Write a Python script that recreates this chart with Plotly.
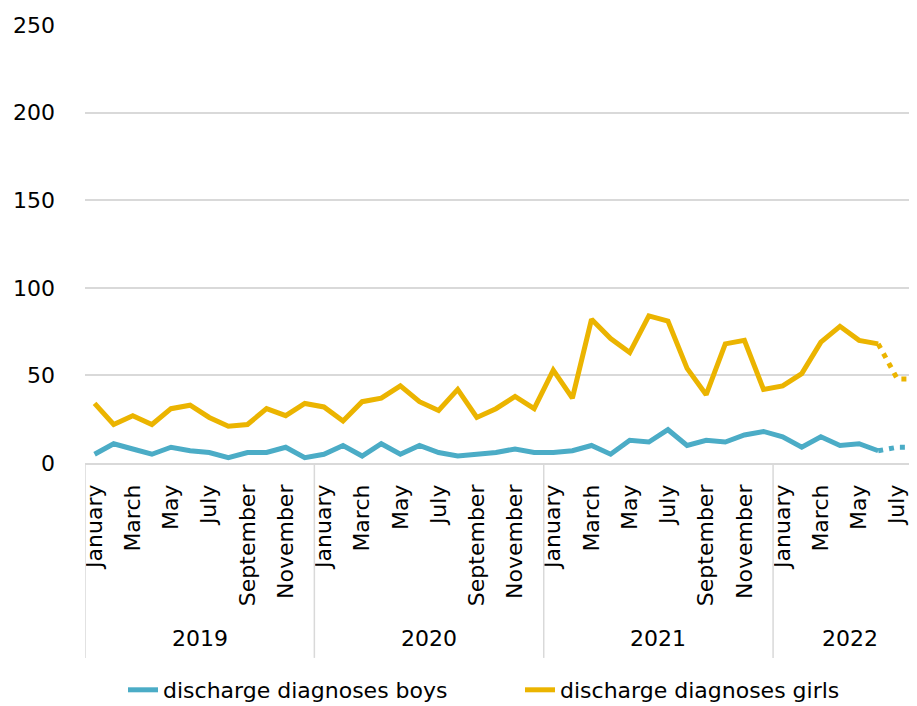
import plotly.graph_objects as go

years = [2019]*12 + [2020]*12 + [2021]*12 + [2022]*8
month_names = ["January", "February", "March", "April", "May", "June", "July",
               "August", "September", "October", "November", "December"]
months = (month_names * 4)[:44]

boys = [5, 11, 8, 5, 9, 7, 6, 3, 6, 6, 9, 3,
        5, 10, 4, 11, 5, 10, 6, 4, 5, 6, 8, 6,
        6, 7, 10, 5, 13, 12, 19, 10, 13, 12, 16, 18,
        15, 9, 15, 10, 11, 7, 9, 9]
girls = [34, 22, 27, 22, 31, 33, 26, 21, 22, 31, 27, 34,
         32, 24, 35, 37, 44, 35, 30, 42, 26, 31, 38, 31,
         53, 37, 82, 71, 63, 84, 81, 54, 39, 68, 70, 42,
         44, 51, 69, 78, 70, 68, 48, 48]
provisional_from = 41  # June 2022: following months dotted (provisional)

series_names = ["discharge diagnoses boys", "discharge diagnoses girls"]
colors = ["#4BACC6", "#EBB400"]

x = list(range(len(months)))
FONT = "DejaVu Sans"

# page body has an 8px default margin; figure is sized so it ends at the window edge
OFF = 8
W, H = 917 - OFF, 706 - OFF

fig = go.Figure()
for name, vals, col in zip(series_names, [boys, girls], colors):
    fig.add_trace(go.Scatter(
        x=x[:provisional_from + 1], y=vals[:provisional_from + 1],
        mode="lines", name=name,
        line=dict(color=col, width=5)))
    fig.add_trace(go.Scatter(
        x=x[provisional_from:], y=vals[provisional_from:],
        mode="lines", name=name, showlegend=False,
        line=dict(color=col, width=5, dash="5px,6px")))

tickvals = [i for i, m in enumerate(months) if month_names.index(m) % 2 == 0]
ticktext = [months[i] for i in tickvals]

shapes = []
annotations = []
for yr in sorted(set(years)):
    idx = [i for i, v in enumerate(years) if v == yr]
    start = idx[0] - 0.5
    shapes.append(dict(type="line", xref="x", yref="paper",
                       x0=start, x1=start, y0=0, y1=-0.445,
                       line=dict(color="#D9D9D9", width=1.5)))
    annotations.append(dict(xref="x", yref="paper", x=(idx[0] + idx[-1]) / 2,
                            y=-0.40, text=str(yr), showarrow=False,
                            yanchor="middle",
                            font=dict(family=FONT, size=22, color="#000000")))

fig.update_layout(
    width=W, height=H,
    margin=dict(l=85 - OFF, r=0, t=25 - OFF, b=243, pad=0),
    paper_bgcolor="white", plot_bgcolor="white",
    font=dict(family=FONT, size=22, color="#000000"),
    shapes=shapes, annotations=annotations,
    showlegend=True,
    legend=dict(orientation="h", xref="container", yref="container",
                x=(123 - OFF) / W, y=(H - (690 - OFF)) / H,
                xanchor="left", yanchor="middle",
                entrywidth=352, entrywidthmode="pixels",
                font=dict(family=FONT, size=22, color="#000000")),
)
fig.update_xaxes(range=[-0.5, 43.03], tickmode="array", tickvals=tickvals,
                 ticktext=ticktext, tickangle=-90, showgrid=False,
                 showline=True, linecolor="#D9D9D9", linewidth=1.5,
                 ticks="", ticklabelstandoff=11, zeroline=False)
fig.update_yaxes(range=[0, 250], tickvals=[0, 50, 100, 150, 200, 250],
                 showgrid=True, gridcolor="#D9D9D9", gridwidth=1.5,
                 zeroline=False, ticks="", ticklabelstandoff=29)

fig.write_html("out.html")
